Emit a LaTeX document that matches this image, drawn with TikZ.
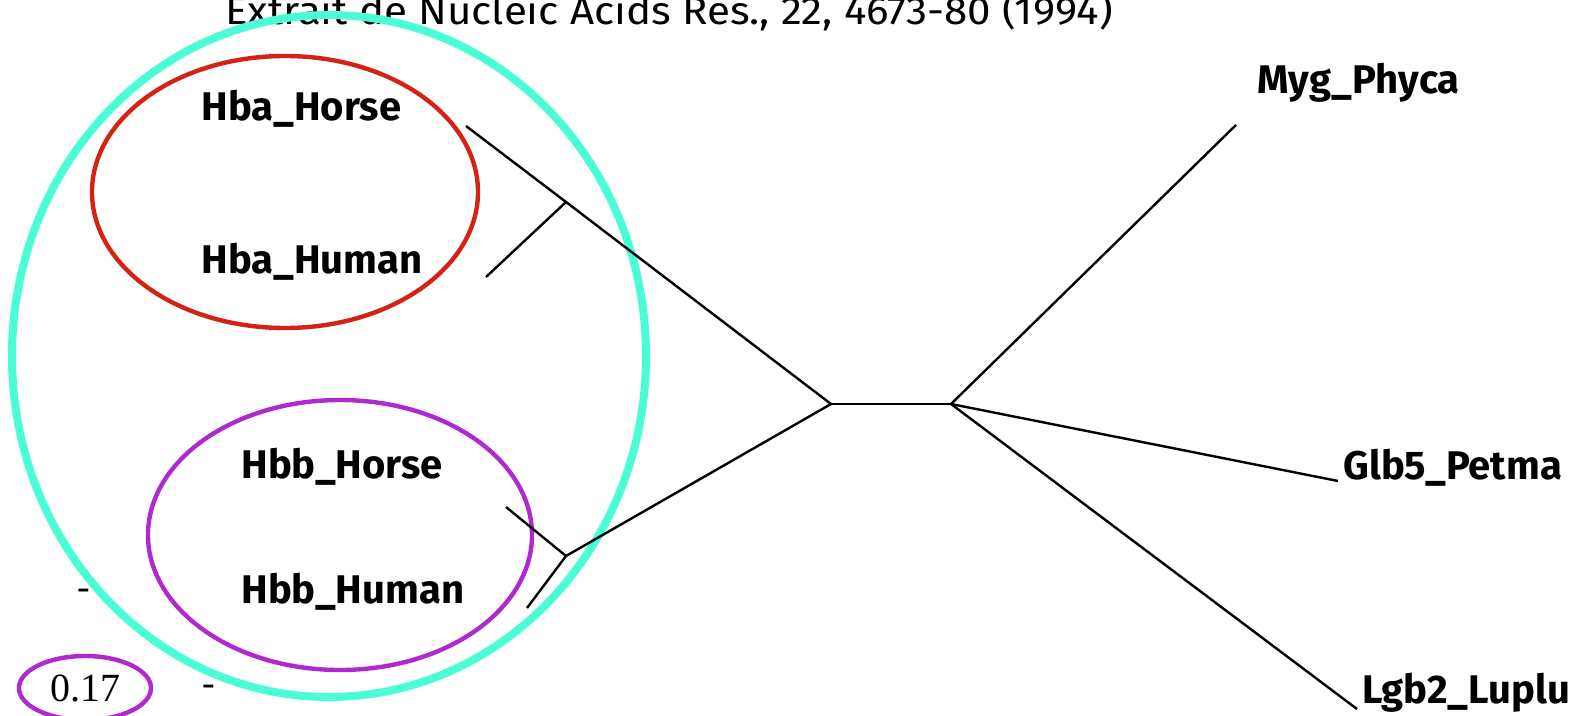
\documentclass[tikz,border=0pt]{standalone}
\usepackage{fontspec}
\setmainfont{Liberation Serif}
\newfontfamily\labelfont{Fira Sans}
\definecolor{grpred}{RGB}{212,35,20}
\definecolor{grpteal}{RGB}{75,253,212}
\definecolor{grppurple}{RGB}{176,40,208}
\tikzset{
  taxon/.style={font=\labelfont\bfseries\fontsize{20}{24}\selectfont, anchor=base west, inner sep=0pt},
  branch/.style={line width=1.2pt, black},
  caption/.style={font=\labelfont\fontsize{19.5}{23}\selectfont, anchor=base, inner sep=0pt, xscale=1.08},
  tick/.style={font=\fontsize{19}{22}\selectfont, inner sep=0pt}
}
\begin{document}
\begin{tikzpicture}[x=0.5pt,y=-0.5pt]
\useasboundingbox (0,0) rectangle (1577,716);

% source reference
\node[caption] (src) at (669,25) {Extrait de Nucleic Acids Res., 22, 4673-80 (1994)};

% group outlines
\draw[grpteal, line width=4pt] (329,356) ellipse [x radius=158.5pt, y radius=170.5pt];
\draw[grpred, line width=2.2pt] (285,192) ellipse [x radius=96.5pt, y radius=68pt];
\draw[grppurple, line width=2.2pt] (340,535) ellipse [x radius=96pt, y radius=67.5pt];

% tree vertices
\coordinate (hbaHorse) at (466,126);
\coordinate (hbaHuman) at (486,277);
\coordinate (hba) at (566,202);
\coordinate (hbbHorse) at (506,507);
\coordinate (hbbHuman) at (527,608);
\coordinate (hbb) at (566,556);
\coordinate (hb) at (831,404);
\coordinate (rt) at (951,404);
\coordinate (myg) at (1236,125);
\coordinate (glb) at (1338,481);
\coordinate (lgb) at (1357,709);

% branches
\draw[branch] (hbaHorse) -- (hba) -- (hb);
\draw[branch] (hbaHuman) -- (hba);
\draw[branch] (hbbHorse) -- (hbb) -- (hb);
\draw[branch] (hbbHuman) -- (hbb);
\draw[branch] (hb) -- (rt);
\draw[branch] (rt) -- (myg);
\draw[branch] (rt) -- (glb);
\draw[branch] (rt) -- (lgb);

% taxon labels
\node[taxon] (lHbaHorse) at (201,121) {Hba\_Horse};
\node[taxon] (lHbaHuman) at (201,274) {Hba\_Human};
\node[taxon] (lHbbHorse) at (241,478) {Hbb\_Horse};
\node[taxon] (lHbbHuman) at (241,603) {Hbb\_Human};
\node[taxon] (lMyg) at (1257,94) {Myg\_Phyca};
\node[taxon] (lGlb) at (1343,479) {Glb5\_Petma};
\node[taxon] (lLgb) at (1362,703) {Lgb2\_Luplu};

% scale
\node[tick] (d1) at (84,594) {-};
\node[tick] (d2) at (209,690) {-};
\node[font=\fontsize{20}{22}\selectfont, inner sep=0pt] (scale) at (85,688) {0.17};
\draw[grppurple, line width=2.2pt] (85,688) ellipse [x radius=33pt, y radius=16pt];
\end{tikzpicture}
\end{document}
